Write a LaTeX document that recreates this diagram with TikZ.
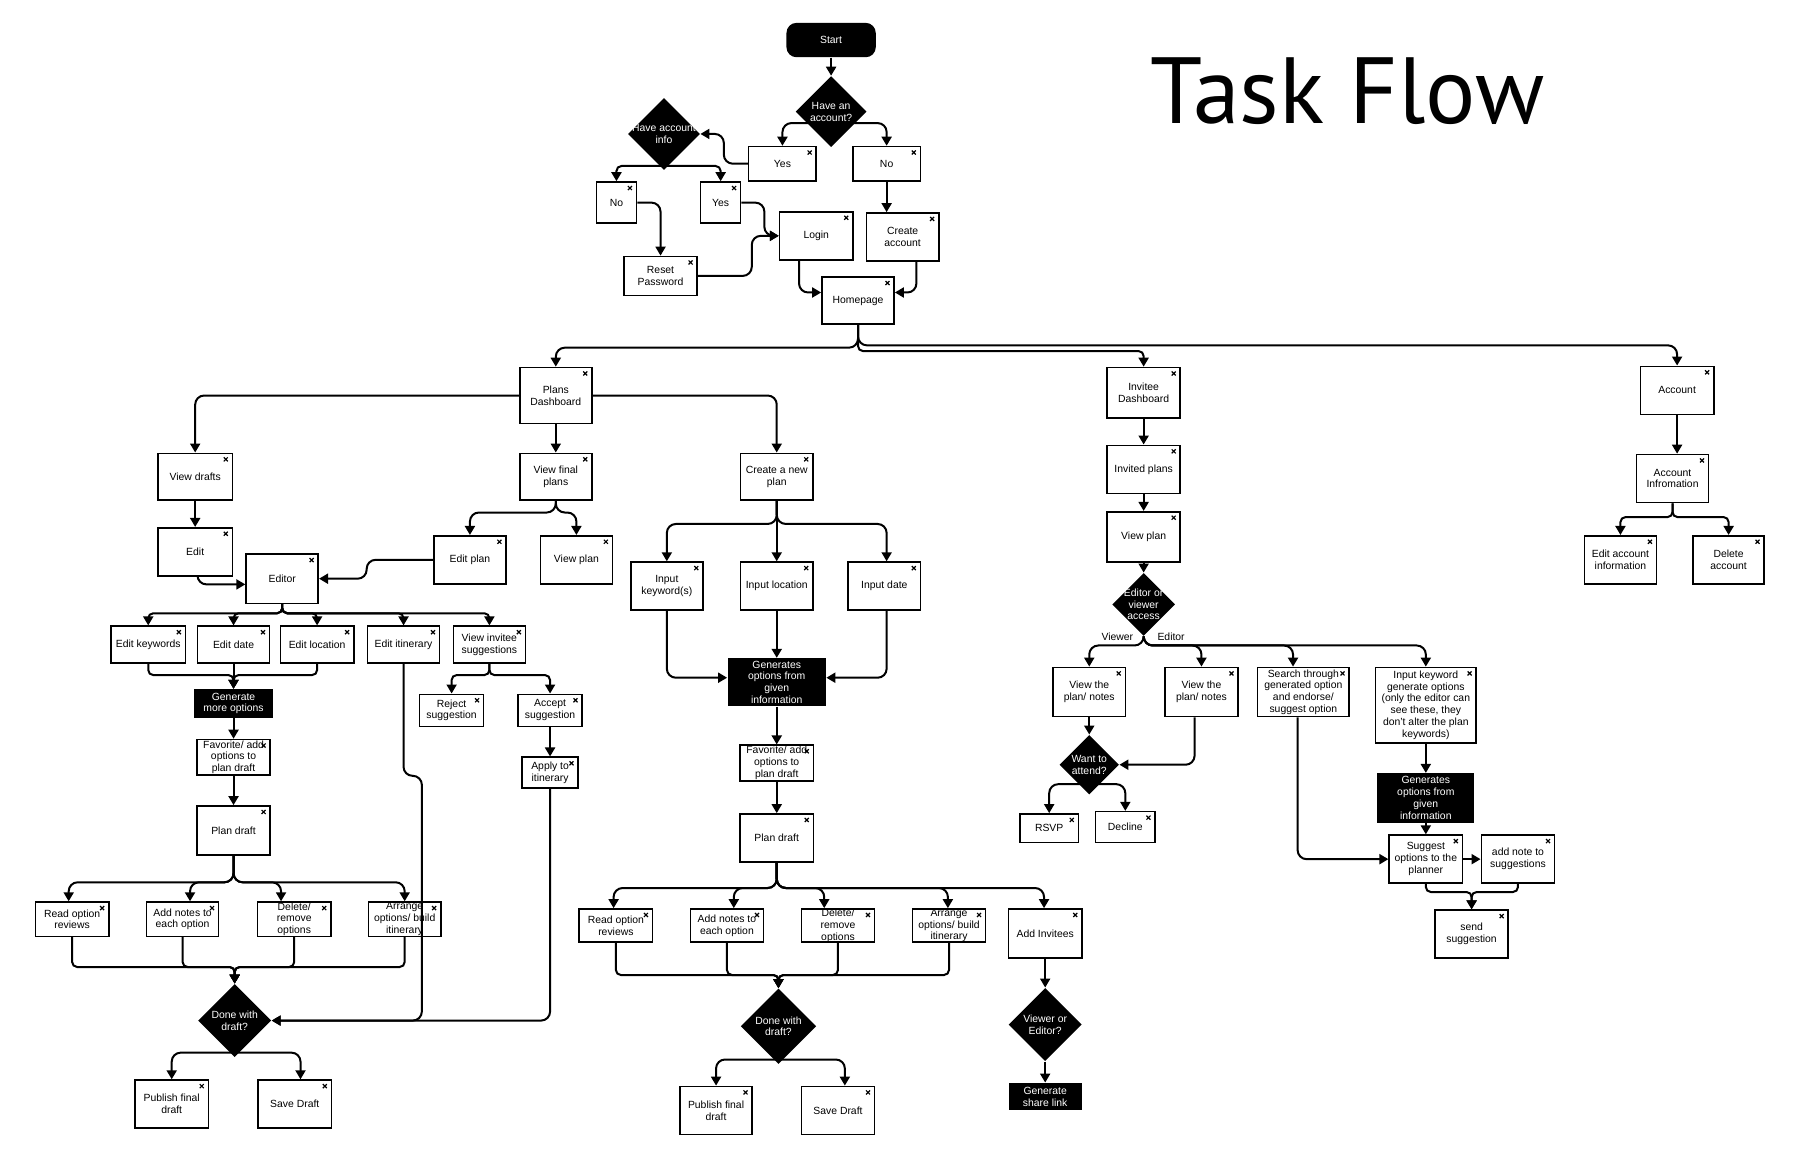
\documentclass[tikz,border=0pt]{standalone}
\usepackage{fontspec}
\setmainfont{Liberation Sans}
\newfontfamily\titlefont{PT Sans}
\usetikzlibrary{arrows.meta,shapes.geometric,calc}
\pgfdeclarelayer{bg}
\pgfsetlayers{bg,main}
\def\un{0.5724pt}
\tikzset{
 txt/.style={font=\fontsize{5.2pt}{5.9pt}\selectfont},
 lbl/.style={txt,align=center,inner sep=0pt},
 sz/.style 2 args={minimum width=#1*\un,minimum height=#2*\un},
 xmark/.style={path picture={\draw[line width=0.6pt] ([shift={(-4.3pt,-4pt)}]path picture bounding box.north east) -- ++(2pt,2pt) ++(-2pt,0pt) -- ++(2pt,-2pt);}},
 box/.style={rectangle,draw=black,fill=white,line width=0.8pt,inner sep=0pt,xmark},
 blk/.style={rectangle,fill=black,inner sep=0pt},
 dia/.style={diamond,fill=black,inner sep=0pt,aspect=1},
 arr/.style={line width=1pt,rounded corners=4.5pt,-{Triangle[width=5pt,length=4.5pt]}},
 tight/.style={rounded corners=2.5pt},
}
\newcommand{\bx}[6]{\node[box,sz={#4}{#5},label={[lbl]center:{#6}}] (#1) at (#2,#3) {};}
\newcommand{\bk}[6]{\node[blk,sz={#4}{#5},label={[lbl,text=white]center:{#6}}] (#1) at (#2,#3) {};}
\newcommand{\dm}[5]{\node[dia,sz={#4}{#4},label={[lbl,text=white]center:{#5}}] (#1) at (#2,#3) {};}
\begin{document}
\begin{tikzpicture}[x=0.5724pt,y=-0.5724pt]
\useasboundingbox (0,0) rectangle (1568,1023);
\begin{pgfonlayer}{bg}
\fill[white] (0,0) rectangle (1568,1023);
\end{pgfonlayer}

% title
\node[anchor=base west,inner sep=0pt,font=\titlefont\fontsize{47pt}{47pt}\selectfont] (title) at (1005,108) {Task Flow};

% top
\node[blk,rounded corners=5pt,sz={78}{30},label={[lbl,text=white]center:{Start}}] (start) at (726,35) {};
\dm{d1}{726}{97.5}{62}{Have an\\account?}
\bx{yes1}{683.5}{143}{59}{30}{Yes}
\bx{no1}{774.5}{143}{59}{30}{No}
\dm{d2}{580}{117}{63}{Have account\\info}
\bx{no2}{538.5}{177}{35}{36}{No}
\bx{yes2}{629.5}{177}{35}{36}{Yes}
\bx{reset}{577}{241}{64}{34}{Reset\\Password}
\bx{login}{713}{206}{64}{42}{Login}
\bx{create}{788.5}{207}{63}{42}{Create\\account}
\bx{home}{749.5}{262.5}{63}{41}{Homepage}

% level 2
\bx{plans}{485.5}{345.5}{63}{49}{Plans\\Dashboard}
\bx{inv}{999}{343}{64}{44}{Invitee\\Dashboard}
\bx{acct}{1465}{341}{64}{42}{Account}

% plans left
\bx{vd}{170.5}{416.5}{65}{41}{View drafts}
\bx{vfp}{485.5}{416.5}{63}{41}{View final\\plans}
\bx{cnp}{678.5}{416.5}{63}{41}{Create a new\\plan}
\bx{edit}{170.5}{482}{65}{42}{Edit}
\bx{editor}{246.5}{505.5}{63}{43}{Editor}
\bx{editplan}{410.5}{489}{63}{42}{Edit plan}
\bx{viewplan1}{503.5}{489}{63}{42}{View plan}
\bx{ek}{129.5}{563}{65}{32}{Edit keywords}
\bx{ed}{204}{563}{63}{32}{Edit date}
\bx{el}{277}{563}{64}{32}{Edit location}
\bx{eit}{352.5}{563}{63}{32}{Edit itinerary}
\bx{vis}{427.5}{563}{63}{32}{View invitee\\suggestions}
\bk{gen}{204}{614.5}{69}{25}{Generate\\more options}
\bx{fav1}{204}{661.5}{64}{31}{Favorite/ add\\options to\\plan draft}
\bx{pd1}{204}{725.5}{64}{43}{Plan draft}
\bx{ror1}{63}{803}{64}{30}{Read option\\reviews}
\bx{an1}{159.5}{803}{63}{30}{Add notes to\\each option}
\bx{dr1}{257}{803}{64}{30}{Delete/\\remove\\options}
\bx{ao1}{353.5}{803}{63}{30}{Arrange\\options/ build\\itinerary}
\bx{reject}{394.5}{620.5}{56}{28}{Reject\\suggestion}
\bx{accept}{480.5}{620.5}{56}{28}{Accept\\suggestion}
\bx{apply}{480.5}{675}{49}{27}{Apply to\\itinerary}
\dm{dwd1}{205}{891.5}{64}{Done with\\draft?}
\bx{publish1}{150}{964.5}{64}{42}{Publish final\\draft}
\bx{save1}{257.5}{964.5}{64}{42}{Save Draft}

% middle
\bx{ik}{582.5}{512}{63}{42}{Input\\keyword(s)}
\bx{il}{678.5}{512}{63}{42}{Input location}
\bx{idt}{772.5}{512}{63}{42}{Input date}
\bk{gen2}{678.5}{596}{86}{42}{Generates\\options from\\given\\information}
\bx{fav2}{678.5}{666.5}{64}{31}{Favorite/ add\\options to\\plan draft}
\bx{pd2}{678.5}{732}{64}{42}{Plan draft}
\bx{ror2}{538}{808.5}{64}{29}{Read option\\reviews}
\bx{an2}{635}{808.5}{64}{29}{Add notes to\\each option}
\bx{dr2}{732}{808.5}{64}{29}{Delete/\\remove\\options}
\bx{ao2}{829}{808.5}{64}{29}{Arrange\\options/ build\\itinerary}
\bx{ai}{913}{815.5}{64}{43}{Add Invitees}
\dm{dwd2}{680}{896.5}{66}{Done with\\draft?}
\bx{publish2}{625.5}{970}{63}{42}{Publish final\\draft}
\bx{save2}{732}{970}{64}{42}{Save Draft}
\dm{voe}{913}{895}{64}{Viewer or\\Editor?}
\bk{gsl}{913}{958}{64}{24}{Generate\\share link}

% invitee
\bx{invited}{999}{410}{64}{42}{Invited plans}
\bx{vp2}{999}{469}{64}{44}{View plan}
\dm{eva}{999}{528}{55}{Editor or\\viewer\\access}
\node[txt,inner sep=0pt] (lv) at (976,556) {Viewer};
\node[txt,inner sep=0pt] (le) at (1023,556) {Editor};
\bx{vtp1}{951.5}{604.5}{63}{43}{View the\\plan/ notes}
\bx{vtp2}{1049.5}{604.5}{64}{43}{View the\\plan/ notes}
\bx{search}{1138.5}{604.5}{80}{43}{Search through\\generated option\\and endorse/\\suggest option}
\bx{ikg}{1245.5}{616}{88}{66}{Input keyword\\generate options\\(only the editor can\\see these, they\\don't alter the plan\\keywords)}
\dm{wta}{951.5}{668}{52}{Want to\\attend?}
\bx{rsvp}{916.5}{723.5}{51}{25}{RSVP}
\bx{decline}{983}{722.5}{52}{27}{Decline}
\bk{gen3}{1245.5}{697}{85}{43}{Generates\\options from\\given\\information}
\bx{sug}{1245.5}{750.5}{64}{42}{Suggest\\options to the\\planner}
\bx{addnote}{1326}{750.5}{64}{42}{add note to\\suggestions}
\bx{send}{1285.5}{816}{64}{42}{send\\suggestion}

% account
\bx{ai2}{1461}{418}{63}{42}{Account\\Infromation}
\bx{eai}{1415.5}{489}{63}{42}{Edit account\\information}
\bx{dac}{1510}{489}{62}{42}{Delete\\account}

% this connector runs over the Arrange box, as in the reference
\draw[arr] (eit.south) -- ++(0,98) -- ++(16,0) |- (dwd1.east);

\begin{pgfonlayer}{bg}
% top
\draw[arr] (start) -- (d1);
\draw[arr] ($(d1)+(0,10)$) -| (yes1.north);
\draw[arr] ($(d1)+(0,10)$) -| (no1.north);
\draw[arr] (yes1.west) -- ++(-21,0) |- (d2.east);
\draw[arr,tight] ($(d2)+(0,28)$) -| (no2.north);
\draw[arr,tight] ($(d2)+(0,28)$) -| (yes2.north);
\draw[arr] (no2.east) -| (reset.north);
\draw[arr] (yes2.east) -- ++(20,0) |- (login.west);
\draw[arr] (reset.east) -- ++(47,0) |- (login.west);
\draw[arr] (no1.south) -- (no1.south |- create.north);
\draw[arr] ($(login.south)+(-15,0)$) |- ($(home.west)+(0,-7)$);
\draw[arr] ($(create.south)+(12,0)$) |- ($(home.east)+(0,-7)$);
% level 2
\draw[arr] (home.south) -- ++(0,20) -| (plans.north);
\draw[arr,tight] (home.south) -- ++(0,23) -| (inv.north);
\draw[arr] (home.south) -- ++(0,18) -| (acct.north);
% plans
\draw[arr] (plans.west) -| (vd.north);
\draw[arr] (plans) -- (vfp);
\draw[arr] (plans.east) -| (cnp.north);
\draw[arr] (vd) -- (edit);
\draw[arr] ($(edit.south)+(2,0)$) |- ($(editor.west)+(0,5)$);
\draw[arr] (vfp.south) -- ++(0,10) -| (editplan.north);
\draw[arr] (vfp.south) -- ++(0,10) -| (viewplan1.north);
\draw[arr] (editplan.west) -- ++(-58,0) |- (editor.east);
\foreach \n in {ek,ed,el,eit,vis} \draw[arr,tight] (editor.south) -- ++(0,8) -| (\n.north);
\draw[arr,tight] (ek.south) -- ++(0,10) -| (gen.north);
\draw[arr,tight] (el.south) -- ++(0,10) -| (gen.north);
\draw[arr] (ed) -- (gen);
\draw[arr] (gen) -- (fav1);
\draw[arr] (fav1) -- (pd1);
\foreach \n/\dx in {ror1/-3,an1/6.5,dr1/-11.5,ao1/0} \draw[arr] (pd1.south) -- ++(0,23) -| ($(\n.north)+(\dx,0)$);
\foreach \n in {ror1,an1,dr1,ao1} \draw[arr,tight] (\n.south) -- ++(0,26) -| (dwd1.north);
\draw[arr,tight] (vis.south) -- ++(0,10) -| (reject.north);
\draw[arr,tight] (vis.south) -- ++(0,10) -| (accept.north);
\draw[arr] (accept) -- (apply);
\draw[arr] (apply.south) |- (dwd1.east);
\draw[arr] ($(dwd1)+(0,28)$) -| (publish1.north);
\draw[arr] ($(dwd1)+(0,28)$) -| ($(save1.north)+(5,0)$);
% middle
\draw[arr] (cnp.south) -- ++(0,20) -| (ik.north);
\draw[arr] (cnp) -- (il);
\draw[arr] (cnp.south) -- ++(0,20) -| ($(idt.north)+(2,0)$);
\draw[arr] (ik.south) |- ($(gen2.west)+(0,-4)$);
\draw[arr] ($(idt.south)+(2,0)$) |- ($(gen2.east)+(0,-4)$);
\draw[arr] (il) -- (gen2);
\draw[arr] (gen2) -- (fav2);
\draw[arr] (fav2) -- (pd2);
\foreach \n/\dx in {ror2/-2,an2/6,dr2/-12,ao2/-1,ai/-1} \draw[arr] (pd2.south) -- ++(0,22) -| ($(\n.north)+(\dx,0)$);
\foreach \n in {ror2,an2,dr2,ao2} \draw[arr,tight] (\n.south) -- ++(0,28) -| (dwd2.north);
\draw[arr] ($(dwd2)+(0,29)$) -| (publish2.north);
\draw[arr] ($(dwd2)+(0,29)$) -| ($(save2.north)+(6,0)$);
\draw[arr] (ai) -- (voe);
\draw[arr] (voe) -- (gsl);
% invitee
\draw[arr] (inv) -- (invited);
\draw[arr] (invited) -- (vp2);
\draw[arr] (vp2) -- (eva);
\draw[arr] (eva.south) -- ++(0,8) -| (vtp1.north);
\draw[arr] (eva.south) -- ++(0,8) -| (vtp2.north);
\draw[arr] (eva.south) -- ++(0,8) -| ($(search.north)+(-9,0)$);
\draw[arr] (eva.south) -- ++(0,8) -| (ikg.north);
\draw[arr] (vtp1) -- (wta);
\draw[arr] ($(vtp2.south)+(-6,0)$) |- (wta.east);
\draw[arr] ($(wta)+(0,17)$) -| (rsvp.north);
\draw[arr] ($(wta)+(0,17)$) -| (decline.north);
\draw[arr] ($(search.south)+(-5,0)$) |- (sug.west);
\draw[arr] (ikg) -- (gen3);
\draw[arr] (gen3) -- (sug);
\draw[arr] (sug.east) -- (addnote.west);
\draw[arr,tight] (sug.south) -- ++(0,7) -| (send.north);
\draw[arr,tight] (addnote.south) -- ++(0,7) -| (send.north);
% account
\draw[arr] (acct.south) -- (acct.south |- ai2.north);
\draw[arr,tight] (ai2.south) -- ++(0,12) -| (eai.north);
\draw[arr,tight] (ai2.south) -- ++(0,12) -| (dac.north);
\end{pgfonlayer}
\end{tikzpicture}
\end{document}
